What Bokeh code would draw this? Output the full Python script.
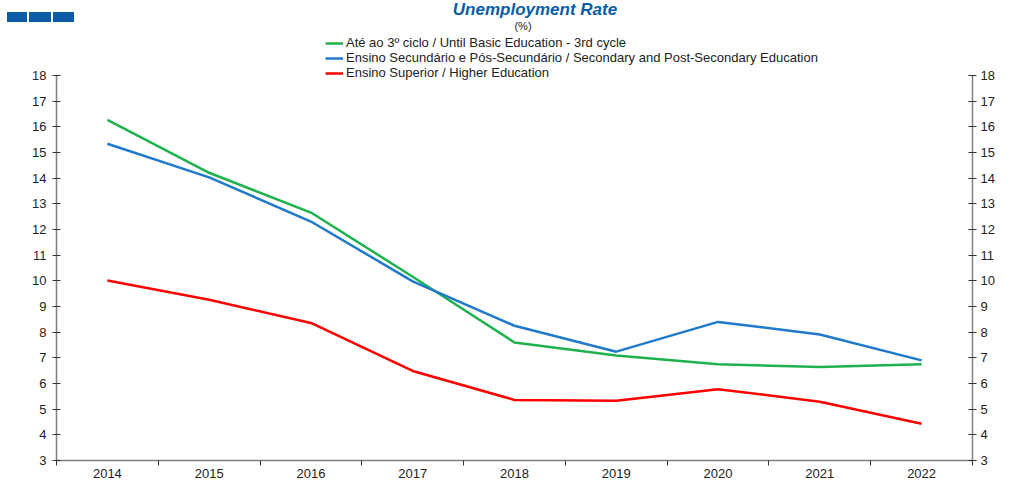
from bokeh.plotting import figure
from bokeh.models import (Legend, LegendItem, LinearAxis, Range1d, FixedTicker, Div)
from bokeh.layouts import column
from bokeh.embed import file_html
from bokeh.resources import INLINE

years = [2014, 2015, 2016, 2017, 2018, 2019, 2020, 2021, 2022]
basic = [16.27, 14.21, 12.66, 10.16, 7.60, 7.09, 6.75, 6.64, 6.75]
secondary = [15.34, 14.03, 12.31, 9.98, 8.25, 7.24, 8.40, 7.91, 6.90]
higher = [10.01, 9.26, 8.36, 6.49, 5.36, 5.33, 5.78, 5.29, 4.43]
y_ticks = list(range(3, 19))

title_text = "Unemployment Rate"
unit_text = "(%)"
names = ["Até ao 3º ciclo / Until Basic Education - 3rd cycle",
         "Ensino Secundário e Pós-Secundário / Secondary and Post-Secondary Education",
         "Ensino Superior / Higher Education"]
colors = ["#1DB24E", "#1F7ACB", "#FF0000"]

FONT = "Liberation Sans"
BLUE = "#0B5CA5"
W = 997
HEAD = 33
H = 480 - HEAD
LEFT, RIGHT = 56, 15
XAXIS_H = 20                 # height taken by the bottom axis
FRAME_H = H - XAXIS_H        # frame spans the whole figure height above the x axis
TOP_PAD = 42                 # px between frame top and the value 18 (room for the legend)

# ---- header: squares, title and unit (HTML) ----
squares = "".join(
    f'<div style="position:absolute;left:{l}px;top:12px;width:{w}px;height:10px;'
    f'background:{BLUE}"></div>'
    for l, w in [(7, 20), (29, 22), (53, 21)])
header_html = (
    f'<div style="position:relative;width:{W}px;height:{HEAD}px;'
    f'font-family:\'{FONT}\',Arial,sans-serif;overflow:hidden">'
    f'{squares}'
    f'<div style="position:absolute;left:0;width:1070px;top:0;text-align:center;'
    f'font-size:17px;font-weight:bold;font-style:italic;color:{BLUE};line-height:19px">'
    f'{title_text}</div>'
    f'<div style="position:absolute;left:0;width:1046px;top:20px;text-align:center;'
    f'font-size:11px;color:#222;line-height:12px">{unit_text}</div>'
    f'</div>')
header = Div(text=header_html, width=W, height=HEAD, margin=(0, 0, 0, 0))

# ---- chart ----
ymin, ymax = y_ticks[0], y_ticks[-1]
y_top = ymax + TOP_PAD * (ymax - ymin) / (FRAME_H - TOP_PAD)

p = figure(width=W, height=H, output_backend="svg", toolbar_location=None,
           x_range=Range1d(years[0] - 0.5, years[-1] + 0.5),
           y_range=Range1d(ymin, y_top),
           min_border_left=LEFT, min_border_right=RIGHT,
           min_border_top=0, min_border_bottom=0,
           outline_line_color=None, background_fill_color="white",
           border_fill_color="white", margin=(0, 0, 0, 0))
p.grid.visible = False

rs = []
for vals, c in zip([basic, secondary, higher], colors):
    rs.append(p.line(years, vals, line_color=c, line_width=2.5))

# x axis: labels at the centres, ticks between categories
xa = p.xaxis[0]
xa.ticker = FixedTicker(ticks=years, minor_ticks=[y - 0.5 for y in years] + [years[-1] + 0.5])
xa.major_tick_out = 0
xa.major_tick_in = 0
xa.minor_tick_out = 5
xa.minor_tick_in = 0
xa.minor_tick_line_color = "#333333"
xa.axis_line_color = "#808080"
xa.axis_line_width = 1.5
xa.major_label_text_font = FONT
xa.major_label_text_font_size = "13px"
xa.major_label_text_color = "#222222"
xa.major_label_standoff = 3

def style_y(ax, standoff):
    ax.ticker = FixedTicker(ticks=y_ticks)
    ax.bounds = (ymin, ymax)
    ax.minor_tick_line_color = None
    ax.major_tick_in = 4
    ax.major_tick_out = 4
    ax.major_tick_line_color = "#333333"
    ax.axis_line_color = "#808080"
    ax.axis_line_width = 1.5
    ax.major_label_text_font = FONT
    ax.major_label_text_font_size = "13px"
    ax.major_label_text_color = "#222222"
    ax.major_label_standoff = standoff

style_y(p.yaxis[0], 6)
ra = LinearAxis()
style_y(ra, 4)
p.add_layout(ra, "right")

# legend in the free band above the value 18 (screen units: from frame left, up from frame bottom)
legend = Legend(items=[LegendItem(label=n, renderers=[r]) for n, r in zip(names, rs)],
                location=(269, FRAME_H - TOP_PAD - 5), orientation="vertical",
                label_text_font=FONT, label_text_font_size="13px",
                label_text_color="#222222",
                glyph_width=18, glyph_height=12, label_standoff=3,
                label_height=13, spacing=0, padding=0, margin=0,
                border_line_color=None, background_fill_alpha=0)
p.add_layout(legend, "center")

page = column(header, p, spacing=0, margin=(0, 0, 0, 0))
open("out.html", "w").write(file_html(page, INLINE))
